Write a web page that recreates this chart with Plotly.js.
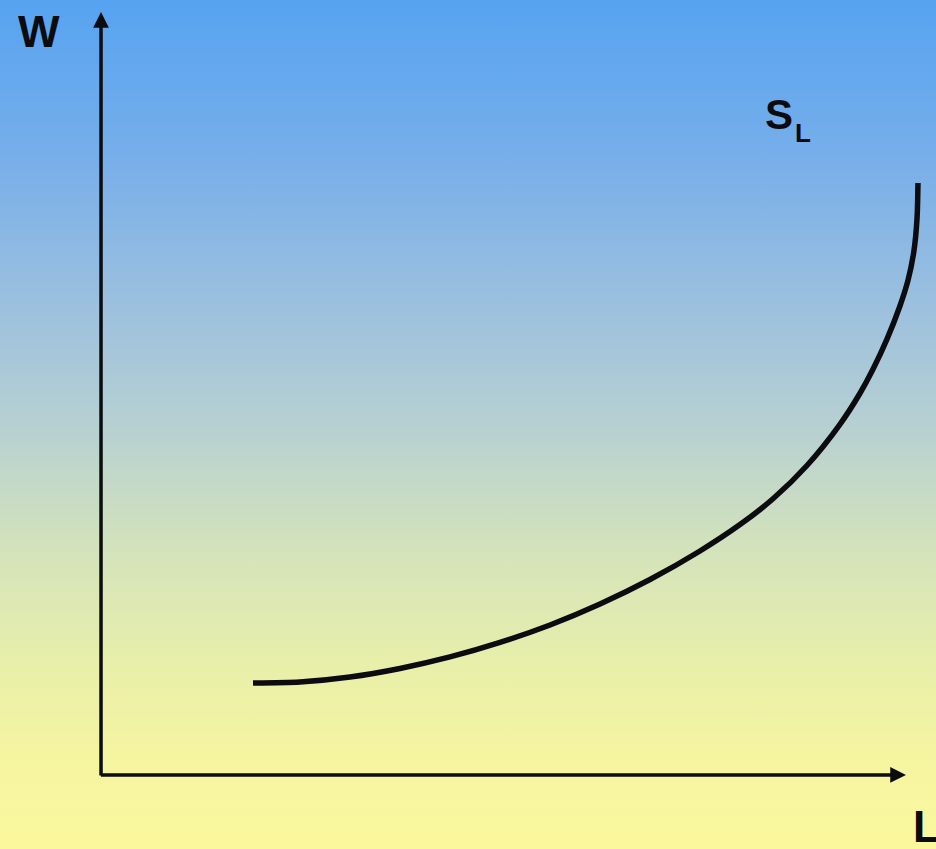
<!DOCTYPE html>
<html>
<head>
<meta charset="utf-8">
<script src="https://cdn.plot.ly/plotly-3.0.1.min.js"></script>
<style>
  html, body { margin: 0; padding: 0; }
  #chart {
    width: 936px; height: 849px;
    background: linear-gradient(to bottom,
      #56a3f1 0%, #76aeea 18%, #9cc0de 36%, #b6d0d2 50%,
      #d2e2bc 64%, #e8efaa 78%, #f6f5a0 90%, #fbf89c 100%);
  }
</style>
</head>
<body>
<div id="chart"></div>
<script>
// Labour supply curve S_L (L on x, W on y), units: axis arrow = 100
const laborL = [18.88, 24.72, 30.93, 37.14, 43.35, 49.57, 55.78, 61.99, 68.20, 74.41, 79.38, 83.48, 87.70, 91.80, 94.29, 95.90, 97.64, 99.25, 100.25, 101.00, 101.37, 101.49];
const wageW  = [12.06, 12.19, 12.84, 13.96, 15.47, 17.37, 19.66, 22.41, 25.62, 29.36, 32.82, 36.20, 40.56, 45.96, 50.03, 53.17, 57.12, 61.47, 64.82, 68.76, 72.88, 77.59];
const axisLabels = { x: "L", y: "W" };
const curveName = "S";
const curveSub = "L";

const ink = "#0b0b10";
const fontFam = "Liberation Sans, Arial, sans-serif";

const trace = {
  x: laborL, y: wageW, type: "scatter", mode: "lines",
  line: { color: ink, width: 5.5, shape: "spline", smoothing: 0.8 },
  hoverinfo: "skip", showlegend: false
};

const hiddenAxis = { visible: false, showgrid: false, zeroline: false, fixedrange: true };

const layout = {
  width: 936, height: 849,
  margin: { l: 0, r: 0, t: 0, b: 0 },
  paper_bgcolor: "rgba(0,0,0,0)",
  plot_bgcolor: "rgba(0,0,0,0)",
  xaxis: Object.assign({ range: [-12.55, 103.73] }, hiddenAxis),
  yaxis: Object.assign({ range: [-9.70, 101.57] }, hiddenAxis),
  showlegend: false,
  annotations: [
    // W axis (vertical arrow)
    { x: 0, y: 100, ax: 0, ay: -0.25, xref: "x", yref: "y", axref: "x", ayref: "y",
      text: "", showarrow: true, arrowhead: 2, arrowsize: 0.9, arrowwidth: 3.5, arrowcolor: ink, standoff: 0 },
    // L axis (horizontal arrow)
    { x: 100, y: 0, ax: -0.2, ay: 0, xref: "x", yref: "y", axref: "x", ayref: "y",
      text: "", showarrow: true, arrowhead: 2, arrowsize: 0.9, arrowwidth: 3.5, arrowcolor: ink, standoff: 0 },
    { x: -7.7, y: 97.4, xref: "x", yref: "y", text: axisLabels.y, showarrow: false,
      xanchor: "center", yanchor: "middle",
      font: { family: fontFam, size: 44, color: ink, weight: "bold" } },
    { x: 100.6, y: -6.7, xref: "x", yref: "y", text: axisLabels.x, showarrow: false,
      xanchor: "left", yanchor: "middle",
      font: { family: fontFam, size: 44, color: ink, weight: "bold" } },
    { x: 82.2, y: 86.6, xref: "x", yref: "y", text: curveName, showarrow: false,
      xanchor: "left", yanchor: "middle",
      font: { family: fontFam, size: 42, color: ink, weight: "bold" } },
    { x: 87.2, y: 84.2, xref: "x", yref: "y", text: curveSub, showarrow: false,
      xanchor: "center", yanchor: "middle",
      font: { family: fontFam, size: 26, color: ink, weight: "bold" } }
  ]
};

Plotly.newPlot("chart", [trace], layout, { displayModeBar: false, staticPlot: true });
</script>
</body>
</html>
